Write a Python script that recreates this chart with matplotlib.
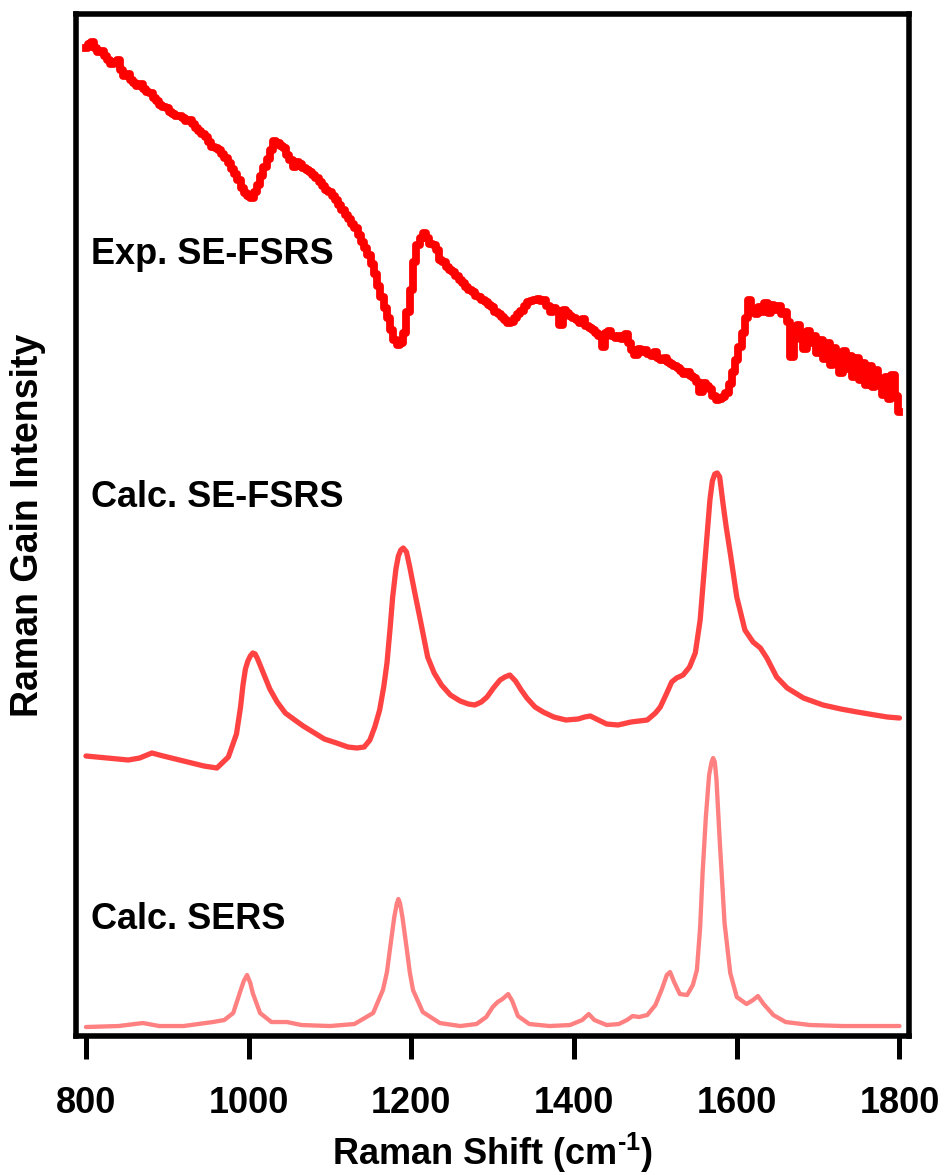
"""Stacked Raman spectra: measured SE-FSRS against the calculated SE-FSRS and SERS traces."""

import matplotlib

matplotlib.use("Agg")
import matplotlib.pyplot as plt
import matplotlib.figure as mplf  # just for type hints

FIG_SIZE = (9.45, 11.75)
DPI = 100

plt.rcParams["font.family"] = ["Liberation Sans", "DejaVu Sans"]
plt.rcParams["font.weight"] = "bold"
plt.rcParams["mathtext.fontset"] = "custom"
plt.rcParams["mathtext.rm"] = "Liberation Sans:bold"
plt.rcParams["mathtext.bf"] = "Liberation Sans:bold"
plt.rcParams["mathtext.default"] = "bf"

# ---- experimental SE-FSRS (already offset to the top of the stack) ----
exp_shift = [
    800, 804, 808, 812, 816, 820, 824, 828, 832, 836, 840, 844, 848, 852, 856, 860,
    864, 868, 872, 876, 880, 884, 888, 892, 896, 900, 904, 908, 912, 916, 920, 924,
    928, 932, 936, 940, 944, 948, 952, 956, 960, 964, 968, 972, 976, 980, 984, 988,
    992, 996, 1000, 1004, 1008, 1012, 1016, 1020, 1024, 1028, 1032, 1036, 1040, 1044,
    1048, 1052, 1056, 1060, 1064, 1068, 1072, 1076, 1080, 1084, 1088, 1092, 1096, 1100,
    1104, 1108, 1112, 1116, 1120, 1124, 1128, 1132, 1136, 1140, 1144, 1148, 1152, 1156,
    1160, 1164, 1168, 1172, 1176, 1180, 1184, 1188, 1192, 1196, 1200, 1204, 1208, 1212,
    1216, 1220, 1224, 1228, 1232, 1236, 1240, 1244, 1248, 1252, 1256, 1260, 1264, 1268,
    1272, 1276, 1280, 1284, 1288, 1292, 1296, 1300, 1304, 1308, 1312, 1316, 1320, 1324,
    1328, 1332, 1336, 1340, 1344, 1348, 1352, 1356, 1360, 1364, 1368, 1372, 1376, 1380,
    1384, 1388, 1392, 1396, 1400, 1404, 1408, 1412, 1416, 1420, 1424, 1428, 1432, 1436,
    1440, 1444, 1448, 1452, 1456, 1460, 1464, 1468, 1472, 1476, 1480, 1484, 1488, 1492,
    1496, 1500, 1504, 1508, 1512, 1516, 1520, 1524, 1528, 1532, 1536, 1540, 1544, 1548,
    1552, 1556, 1560, 1564, 1568, 1572, 1576, 1580, 1584, 1588, 1592, 1596, 1600, 1604,
    1608, 1612, 1616, 1620, 1624, 1628, 1632, 1636, 1640, 1644, 1648, 1652, 1656, 1660,
    1664, 1668, 1672, 1676, 1680, 1684, 1688, 1692, 1696, 1700, 1704, 1708, 1712, 1716,
    1720, 1724, 1728, 1732, 1736, 1740, 1744, 1748, 1752, 1756, 1760, 1764, 1768, 1772,
    1776, 1780, 1784, 1788, 1792, 1796, 1800,
]
exp_gain = [
    989, 993, 995, 989, 985, 986, 981, 977, 973, 975, 977, 967, 961, 963, 957, 954,
    951, 953, 948, 945, 944, 939, 936, 932, 930, 929, 925, 923, 921, 921, 919, 916,
    917, 913, 909, 906, 903, 900, 895, 890, 889, 887, 883, 879, 874, 868, 863, 857,
    849, 844, 841, 839, 845, 852, 861, 870, 878, 887, 896, 894, 891, 889,
    882, 877, 870, 875, 873, 869, 867, 865, 862, 859, 855, 851, 847, 845,
    841, 837, 832, 827, 822, 818, 813, 809, 802, 795, 789, 782, 773, 763,
    751, 740, 729, 719, 707, 697, 692, 694, 704, 725, 747, 775, 792, 799,
    804, 799, 793, 792, 787, 777, 775, 770, 767, 765, 761, 757, 754, 750,
    747, 745, 741, 740, 737, 735, 732, 730, 725, 723, 720, 717, 714, 715,
    719, 723, 726, 731, 735, 736, 737, 738, 736, 737, 731, 725, 729, 726,
    712, 727, 724, 721, 719, 717, 714, 718, 711, 709, 707, 704, 701, 690,
    704, 706, 701, 699, 701, 698, 703, 694, 687, 682, 688, 685, 687, 683,
    681, 685, 679, 677, 679, 675, 673, 671, 669, 666, 663, 665, 661, 659,
    655, 645, 654, 651, 648, 641, 637, 638, 640, 644, 653, 665, 677, 690,
    704, 719, 737, 725, 723, 730, 725, 734, 724, 732, 727, 731, 723, 725,
    715, 680, 708, 712, 698, 688, 706, 694, 701, 684, 697, 678, 694, 672,
    689, 680, 664, 686, 668, 681, 660, 679, 657, 674, 652, 671, 650, 667,
    656, 642, 660, 638, 662, 641, 625,
]

# ---- calculated SE-FSRS ----
fsrs_shift = [
    800, 852, 866, 881, 895, 920, 945, 961, 975, 985, 990, 993, 996, 999, 1002, 1005,
    1008, 1011, 1018, 1026, 1035, 1045, 1055, 1067, 1079, 1093, 1108, 1122, 1133,
    1142, 1149, 1155, 1161, 1166, 1170, 1174, 1177, 1181, 1184, 1187, 1190, 1194,
    1198, 1204, 1211, 1220, 1228, 1237, 1248, 1260, 1270, 1278, 1286, 1293, 1301,
    1309, 1315, 1321, 1328, 1335, 1342, 1352, 1362, 1375, 1390, 1405, 1413, 1420,
    1430, 1440, 1454, 1470, 1490, 1500, 1506, 1514, 1520, 1526, 1534, 1542, 1549,
    1555, 1561, 1567, 1570, 1573, 1576, 1579, 1583, 1587, 1592, 1600, 1610, 1620,
    1629, 1637, 1649, 1662, 1682, 1706, 1728, 1748, 1770, 1785, 1800,
]
fsrs_gain = [
    281, 277, 279, 284, 281, 276, 271, 269, 280, 303, 330, 352, 368, 376, 381, 384,
    383, 378, 364, 348, 335, 324, 318, 311, 305, 298, 294, 290, 289,
    290, 297, 310, 327, 350, 374, 410, 440, 468, 481, 487, 489, 485,
    470, 445, 417, 380, 364, 352, 342, 336, 333, 332, 335, 340, 349,
    357, 360, 362, 356, 347, 339, 330, 325, 320, 317, 318, 320, 321,
    317, 313, 312, 315, 317, 324, 330, 344, 355, 359, 362, 370, 384,
    417, 477, 537, 556, 563, 564, 560, 534, 510, 484, 440, 407, 395,
    389, 379, 360, 349, 339, 332, 328, 325, 322, 320, 319,
]

# ---- calculated SERS ----
sers_shift = [
    800, 840, 870, 890, 920, 956, 970, 981, 989, 994, 998, 1002, 1005, 1014, 1028,
    1047, 1065, 1100, 1130, 1153, 1165, 1170, 1174, 1179, 1182, 1184, 1186, 1189,
    1194, 1198, 1202, 1214, 1235, 1260, 1280, 1292, 1300, 1306, 1312, 1319, 1324,
    1331, 1345, 1370, 1395, 1410, 1418, 1425, 1440, 1455, 1465, 1472, 1480, 1490,
    1500, 1508, 1514, 1518, 1523, 1530, 1539, 1546, 1551, 1555, 1558, 1562, 1566,
    1569, 1571, 1573, 1575, 1579, 1585, 1592, 1600, 1612, 1620, 1626, 1633, 1645,
    1660, 1690, 1730, 1800,
]
sers_gain = [
    10, 11, 14, 11, 11, 15, 17, 24, 44, 56, 62, 54, 44, 24, 15,
    15, 12, 11, 13, 24, 47, 65, 90, 120, 133, 138, 134, 120,
    90, 65, 47, 25, 14, 11, 13, 20, 30, 35, 38, 43, 36,
    21, 13, 11, 12, 17, 23, 17, 12, 13, 17, 21, 20, 22,
    32, 48, 62, 65, 55, 43, 42, 52, 67, 110, 164, 220, 262,
    275, 279, 275, 258, 197, 114, 64, 40, 33, 37, 41, 33, 22,
    15, 12, 11, 11,
]

trace_labels = ["Exp. SE-FSRS", "Calc. SE-FSRS", "Calc. SERS"]
x_ticks = [800, 1000, 1200, 1400, 1600, 1800]


def spectra_stack() -> mplf.Figure:
    """Draws the three spectra on one shared Raman-shift axis.

    Returns:
        mplf.Figure: the finished figure.
    """
    fig = plt.figure(figsize=FIG_SIZE, dpi=DPI)
    ax = fig.add_axes([0.0804, 0.1187, 0.882, 0.869])

    ax.plot(sers_shift, sers_gain, color="#ff8080", lw=3.1,
            solid_joinstyle="round", solid_capstyle="round")
    ax.plot(fsrs_shift, fsrs_gain, color="#ff4242", lw=3.8,
            solid_joinstyle="round", solid_capstyle="round")
    ax.plot(exp_shift, exp_gain, color="#ff0000", lw=5.6, drawstyle="steps-mid")

    # trace names, in axes coordinates on the left edge
    label_y = [0.756, 0.518, 0.104]
    for name, y in zip(trace_labels, label_y):
        ax.text(0.018, y, name, transform=ax.transAxes, fontsize=26,
                fontweight="bold", ha="left", va="baseline")

    ax.set_xlim(787.7, 1812.3)
    ax.set_ylim(1.5, 1022.5)
    ax.set_xticks(x_ticks)
    ax.set_yticks([])
    ax.tick_params(axis="x", direction="out", length=16.5, width=3.6,
                   pad=20, labelsize=26)
    for lab in ax.get_xticklabels():
        lab.set_fontweight("bold")
    for spine in ax.spines.values():
        spine.set_linewidth(4.0)

    ax.set_xlabel(r"Raman Shift (cm$^{\text{-1}}$)", fontsize=26,
                  fontweight="bold", labelpad=7)
    ax.set_ylabel("Raman Gain Intensity", fontsize=27, fontweight="bold")
    ax.yaxis.set_label_coords(-0.036, 0.5)
    return fig


def main() -> None:
    fig = spectra_stack()
    fig.savefig("out.png", dpi=DPI)


if __name__ == "__main__":
    main()
